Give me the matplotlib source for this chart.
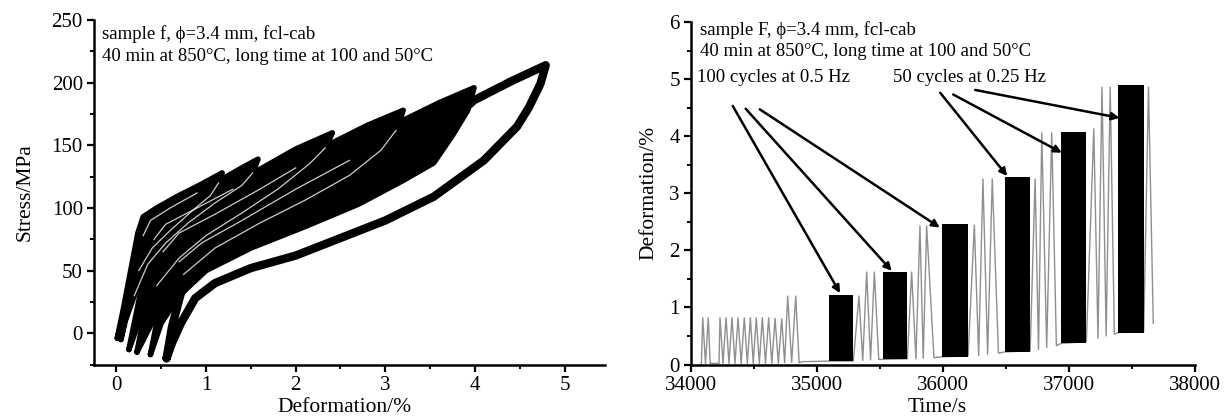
import matplotlib
matplotlib.use('Agg')
import matplotlib.pyplot as plt
from matplotlib.ticker import MultipleLocator

plt.rcParams['font.family'] = ['Liberation Serif', 'DejaVu Serif']

# ---------------- Left panel: stress-strain hysteresis loops ----------------
# each loop: loading branch up to the peak, then unloading branch back
loop1_x = [0.01, 0.08, 0.16, 0.24, 0.30, 0.45, 0.70, 0.95, 1.18,
           1.14, 1.05, 0.85, 0.60, 0.40, 0.25, 0.12, 0.01]
loop1_y = [-4, 20, 50, 80, 93, 100, 110, 119, 128,
           120, 110, 98, 82, 68, 50, 22, -4]

loop2_x = [0.05, 0.12, 0.20, 0.30, 0.38, 0.60, 0.90, 1.18, 1.40, 1.58,
           1.52, 1.40, 1.10, 0.80, 0.55, 0.35, 0.20, 0.10, 0.05]
loop2_y = [-5, 20, 50, 78, 90, 100, 112, 123, 132, 139,
           128, 118, 104, 88, 72, 55, 30, 10, -5]

loop3_x = [0.14, 0.22, 0.32, 0.42, 0.55, 0.90, 1.30, 1.58, 2.00, 2.41,
           2.33, 2.15, 1.80, 1.40, 1.00, 0.70, 0.45, 0.28, 0.14]
loop3_y = [-13, 15, 50, 75, 87, 100, 115, 130, 147, 160,
           148, 135, 115, 96, 78, 60, 38, 15, -13]

loop4_x = [0.23, 0.30, 0.40, 0.52, 0.70, 1.10, 1.60, 2.00, 2.41, 2.80, 3.20,
           3.12, 2.95, 2.60, 2.10, 1.60, 1.10, 0.75, 0.48, 0.23]
loop4_y = [-15, 10, 40, 65, 80, 95, 115, 132, 152, 166, 178,
           162, 146, 126, 106, 88, 68, 47, 20, -15]

loop5_x = [0.38, 0.45, 0.55, 0.70, 0.95, 1.40, 2.00, 2.60, 3.20, 3.60, 3.99,
           3.92, 3.75, 3.54, 3.20, 2.70, 2.10, 1.50, 1.00, 0.70, 0.50, 0.38]
loop5_y = [-17, 8, 35, 57, 72, 90, 115, 138, 170, 184, 196,
           178, 158, 136, 122, 103, 85, 68, 50, 30, 8, -17]

loop6_x = [0.56, 0.62, 0.72, 0.90, 1.30, 2.00, 2.60, 3.20, 3.54, 3.99, 4.40, 4.79,
           4.73, 4.60, 4.47, 4.10, 3.54, 3.00, 2.50, 2.00, 1.50, 1.10, 0.88,
           0.72, 0.62, 0.56]
loop6_y = [-20, 5, 32, 50, 68, 92, 118, 145, 157, 186, 201, 214,
           199, 180, 165, 138, 109, 90, 76, 62, 52, 40, 28,
           8, -8, -20]

loops = [(loop1_x, loop1_y), (loop2_x, loop2_y), (loop3_x, loop3_y),
         (loop4_x, loop4_y), (loop5_x, loop5_y), (loop6_x, loop6_y)]

left_xticks = [0, 1, 2, 3, 4, 5]
left_yticks = [0, 50, 100, 150, 200, 250]

# ---------------- Right panel: deformation vs time ----------------
trace_t = [34082, 34093, 34115, 34137, 34152, 34222,
           34230, 34254, 34278, 34301, 34325, 34349, 34373, 34398, 34423, 34447,
           34471, 34494, 34518, 34542, 34566, 34591, 34616, 34641, 34667, 34693,
           34720, 34743,
           34767, 34799, 34831, 34858, 34880, 35093,
           35288, 35333, 35363, 35394, 35425, 35455, 35490, 35526,
           35717, 35751, 35785, 35817, 35843, 35870, 35928, 35990,
           36199, 36249, 36283, 36317, 36354, 36391, 36440, 36489,
           36692, 36731, 36758, 36784, 36823, 36863, 36900, 36937,
           37138, 37197, 37230, 37262, 37295, 37327, 37360, 37389,
           37593, 37631, 37669]
trace_y = [0.0, 0.82, 0.01, 0.82, 0.02, 0.02,
           0.82, 0.02, 0.82, 0.02, 0.82, 0.02, 0.82, 0.02, 0.82, 0.02,
           0.82, 0.02, 0.82, 0.02, 0.82, 0.02, 0.82, 0.02, 0.81, 0.02,
           0.80, 0.03,
           1.20, 0.04, 1.20, 0.03, 0.05, 0.06,
           0.06, 1.20, 0.07, 1.62, 0.08, 1.62, 0.09, 0.09,
           0.10, 1.62, 0.10, 2.43, 0.11, 2.43, 0.12, 0.135,
           0.15, 2.44, 0.16, 3.25, 0.18, 3.25, 0.20, 0.22,
           0.24, 3.25, 0.26, 4.06, 0.30, 4.06, 0.33, 0.37,
           0.40, 4.13, 0.46, 4.86, 0.50, 4.86, 0.53, 0.56,
           0.58, 4.86, 0.72]

block_start = [35093, 35526, 35990, 36489, 36937, 37389]
block_end = [35288, 35717, 36199, 36692, 37138, 37593]
block_bottom = [0.06, 0.09, 0.135, 0.22, 0.37, 0.56]
block_top = [1.21, 1.62, 2.46, 3.29, 4.08, 4.89]

arrow_start_t = [34331, 34434, 34546, 35978, 36081, 36255]
arrow_start_y = [4.53, 4.48, 4.47, 4.76, 4.73, 4.81]
arrow_end_t = [35183, 35593, 35975, 36510, 36943, 37401]
arrow_end_y = [1.25, 1.64, 2.40, 3.30, 3.71, 4.32]

right_xticks = [34000, 35000, 36000, 37000, 38000]
right_yticks = [0, 1, 2, 3, 4, 5, 6]

# ---------------- Figure ----------------
fig = plt.figure(figsize=(12.25, 4.19), dpi=100)
ax1 = fig.add_axes([0.0767, 0.130, 0.4171, 0.822])
ax2 = fig.add_axes([0.5641, 0.130, 0.4114, 0.8175])

TICK_FS = 15
LABEL_FS = 15.5
TEXT_FS = 13.5

for ax in (ax1, ax2):
    for s in ('top', 'right'):
        ax.spines[s].set_visible(False)
    for s in ('left', 'bottom'):
        ax.spines[s].set_linewidth(1.8)
    ax.tick_params(which='major', direction='out', length=5, width=1.6,
                   labelsize=TICK_FS, pad=3)
    ax.tick_params(which='minor', direction='out', length=3, width=1.4)

# Left: the largest loop as a dense black band, the others as filled bundles
l6x, l6y = loops[5]
ax1.plot(l6x, l6y, color='black', lw=6.0, solid_joinstyle='round',
         solid_capstyle='round', zorder=2)
for lx, ly in loops[:5]:
    ax1.fill(lx, ly, color='black', lw=0, zorder=3)
    ax1.plot(lx, ly, color='black', lw=4.0, solid_joinstyle='round',
             solid_capstyle='round', zorder=3)

# light streaks between cycle bundles (inside the black mass)
for k, (lx, ly) in enumerate(loops[:5]):
    ipk = ly.index(max(ly))
    if k < 4:
        ax1.plot(lx[ipk + 1:-2], ly[ipk + 1:-2], color='white', lw=0.9,
                 alpha=0.8, zorder=4)
    if k > 0:
        prev_peak_x = loops[k - 1][0][loops[k - 1][1].index(max(loops[k - 1][1]))]
        idx = [i for i in range(3, ipk) if lx[i] < prev_peak_x - 0.05]
        if len(idx) > 1:
            ax1.plot([lx[i] for i in idx], [ly[i] for i in idx], color='white',
                     lw=0.9, alpha=0.8, zorder=4)

ax1.set_xlim(-0.25, 5.45)
ax1.set_ylim(-25, 250)
ax1.set_xticks(left_xticks)
ax1.set_yticks(left_yticks)
ax1.xaxis.set_minor_locator(MultipleLocator(0.5))
ax1.yaxis.set_minor_locator(MultipleLocator(25))
ax1.set_xlabel('Deformation/%', fontsize=LABEL_FS)
ax1.set_ylabel('Stress/MPa', fontsize=LABEL_FS)
ax1.xaxis.set_label_coords(0.49, -0.098)
ax1.yaxis.set_label_coords(-0.117, 0.5)
ax1.text(-0.16, 239, 'sample f, ϕ=3.4 mm, fcl-cab', fontsize=TEXT_FS, va='center', ha='left')
ax1.text(-0.16, 221, '40 min at 850°C, long time at 100 and 50°C', fontsize=TEXT_FS,
         va='center', ha='left')

# Right
ax2.plot(trace_t, trace_y, color='#8f8f8f', lw=1.0, zorder=2)
ax2.bar(block_start, [t - b for t, b in zip(block_top, block_bottom)],
        width=[e - s for s, e in zip(block_start, block_end)],
        bottom=block_bottom, align='edge', color='black', zorder=3)
for x0, y0, x1, y1 in zip(arrow_start_t, arrow_start_y, arrow_end_t, arrow_end_y):
    ax2.annotate('', xy=(x1, y1), xytext=(x0, y0),
                 arrowprops=dict(arrowstyle='-|>', color='black', lw=1.8,
                                 mutation_scale=11, shrinkA=0, shrinkB=0),
                 zorder=4)
ax2.set_xlim(34000, 38000)
ax2.set_ylim(0, 6)
ax2.set_xticks(right_xticks)
ax2.set_yticks(right_yticks)
ax2.xaxis.set_minor_locator(MultipleLocator(500))
ax2.yaxis.set_minor_locator(MultipleLocator(0.5))
ax2.set_xlabel('Time/s', fontsize=LABEL_FS)
ax2.set_ylabel('Deformation/%', fontsize=LABEL_FS)
ax2.xaxis.set_label_coords(0.488, -0.098)
ax2.yaxis.set_label_coords(-0.065, 0.5)
ax2.text(34074, 5.86, 'sample F, ϕ=3.4 mm, fcl-cab', fontsize=TEXT_FS, va='center', ha='left')
ax2.text(34074, 5.49, '40 min at 850°C, long time at 100 and 50°C', fontsize=TEXT_FS,
         va='center', ha='left')
ax2.text(34044, 5.03, '100 cycles at 0.5 Hz', fontsize=TEXT_FS, va='center', ha='left')
ax2.text(35603, 5.03, '50 cycles at 0.25 Hz', fontsize=TEXT_FS, va='center', ha='left')

fig.savefig('out.png', dpi=100)
